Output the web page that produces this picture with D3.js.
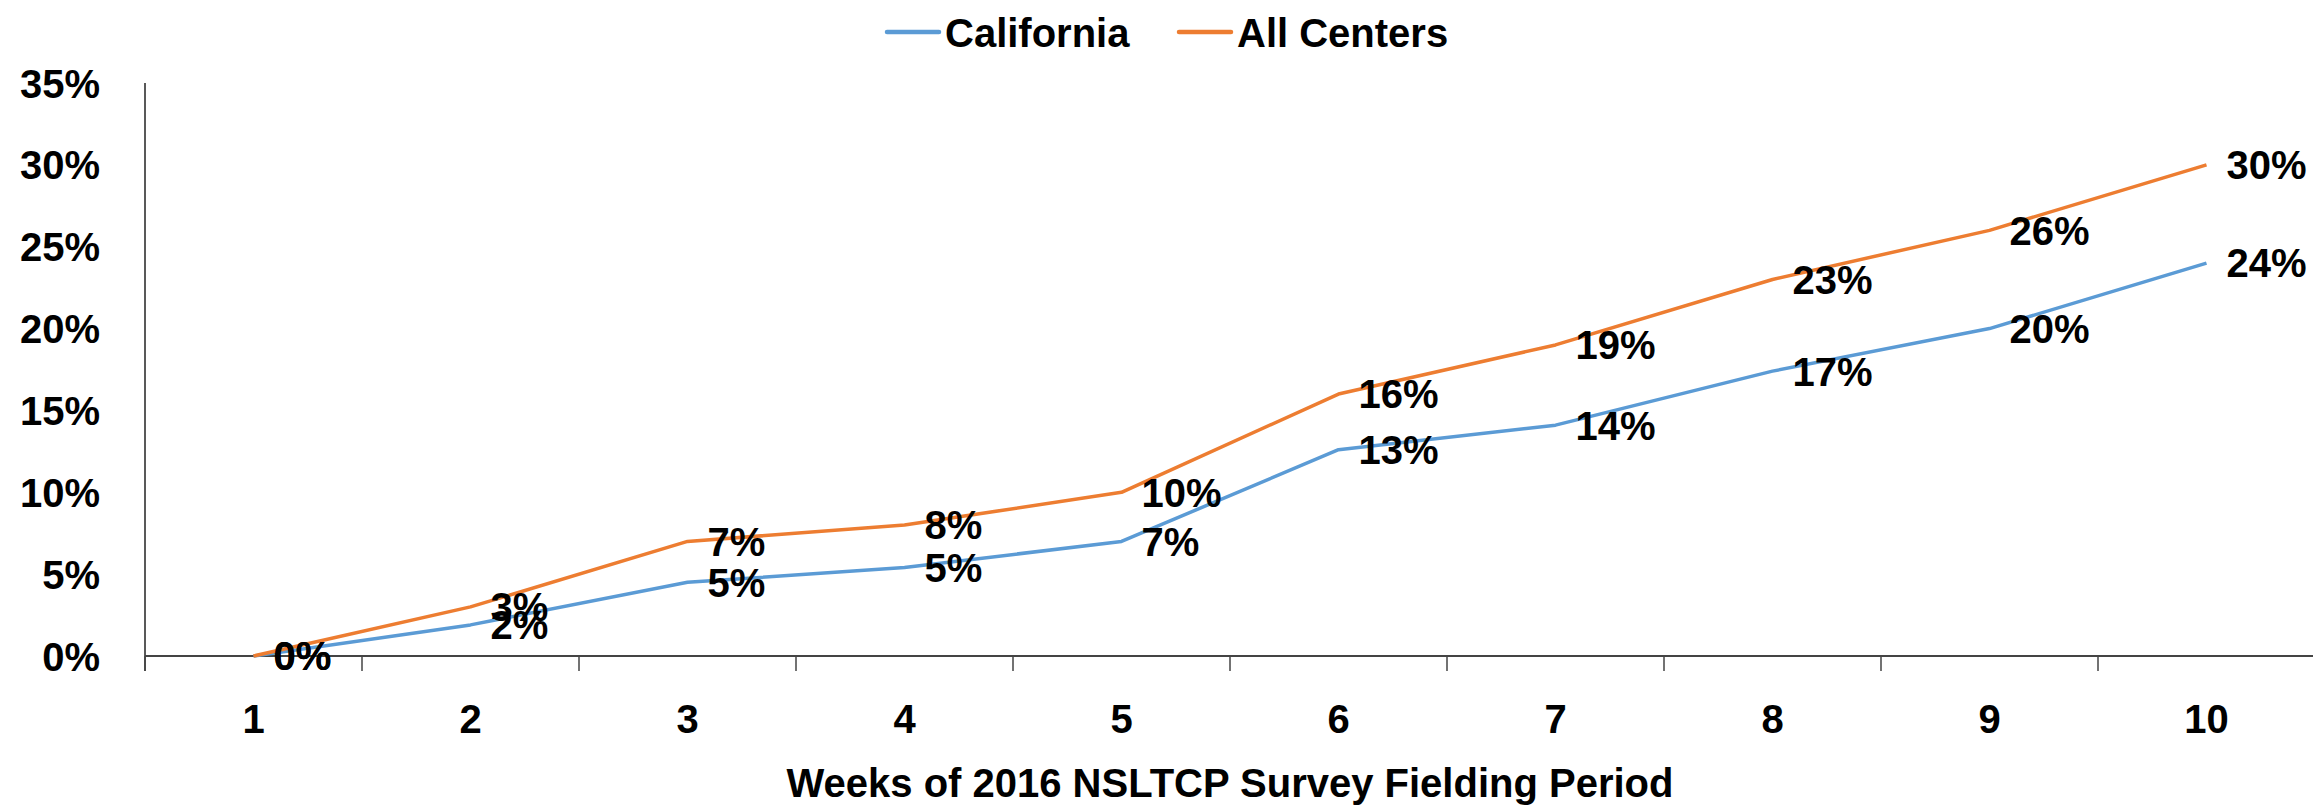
<!DOCTYPE html>
<html>
<head>
<meta charset="utf-8">
<script src="https://cdn.jsdelivr.net/npm/d3@7"></script>
<style>
  body { margin: 0; background: #fff; }
  text { font-family: "Liberation Sans", Arial, sans-serif; font-weight: bold; fill: #000; }
</style>
</head>
<body>
<div id="chart"></div>
<script>
var width = 2313,
    height = 807;

// data
var weeks = ["1", "2", "3", "4", "5", "6", "7", "8", "9", "10"];
var california = [0.000, 0.019, 0.045, 0.054, 0.070, 0.126, 0.141, 0.174, 0.200, 0.240];
var allCenters = [0.000, 0.030, 0.070, 0.080, 0.100, 0.160, 0.190, 0.230, 0.260, 0.300];
var seriesNames = ["California", "All Centers"];
var seriesColors = ["#5B9BD5", "#ED7D31"];
var yTicks = [0, 0.05, 0.10, 0.15, 0.20, 0.25, 0.30, 0.35];
var xTitle = "Weeks of 2016 NSLTCP Survey Fielding Period";

var margin = {left: 145, right: -2, top: 83, bottom: 151};

var svg = d3.select("#chart")
    .append("svg")
    .attr("width", width)
    .attr("height", height);

var x = d3.scaleBand()
    .domain(weeks)
    .range([margin.left, width - margin.right])
    .padding(0);

var y = d3.scaleLinear()
    .domain([0, 0.35])
    .range([height - margin.bottom, margin.top]);

var pct = d3.format(".0%");
var fs = 40;

// y axis labels
var yAxis = svg.append("g")
    .attr("transform", "translate(" + margin.left + ",0)")
    .call(d3.axisLeft(y).tickValues(yTicks).tickFormat(pct).tickSize(0).tickPadding(45));
yAxis.select(".domain").remove();
yAxis.selectAll("text")
    .attr("font-size", fs)
    .attr("font-family", null)
    .attr("dy", "0.35em");

// y axis line (runs down past the x axis like the tick marks)
svg.append("line")
    .attr("x1", margin.left).attr("x2", margin.left)
    .attr("y1", y(0.35)).attr("y2", y(0) + 15)
    .attr("stroke", "#222").attr("stroke-width", 1.5);

// x axis labels
var xAxis = svg.append("g")
    .attr("transform", "translate(0," + y(0) + ")")
    .call(d3.axisBottom(x).tickSize(0).tickPadding(49));
xAxis.select(".domain").remove();
xAxis.selectAll("text")
    .attr("font-size", fs)
    .attr("font-family", null);

// x axis line and tick marks between categories
svg.append("line")
    .attr("x1", margin.left).attr("x2", width)
    .attr("y1", y(0)).attr("y2", y(0))
    .attr("stroke", "#444").attr("stroke-width", 2);

var bounds = weeks.map(function(d){ return x(d); }).concat([x.range()[1]]);
svg.append("g").selectAll("line.tick")
    .data(bounds)
    .enter().append("line")
    .attr("x1", function(d){ return d; })
    .attr("x2", function(d){ return d; })
    .attr("y1", y(0))
    .attr("y2", y(0) + 15)
    .attr("stroke", "#444").attr("stroke-width", 1.5);

// x axis title
svg.append("text")
    .attr("x", (x.range()[0] + x.range()[1]) / 2)
    .attr("y", 797)
    .attr("text-anchor", "middle")
    .attr("font-size", fs)
    .text(xTitle);

// lines
var cx = function(i){ return x(weeks[i]) + x.bandwidth() / 2; };
var line = d3.line()
    .x(function(d, i){ return cx(i); })
    .y(function(d){ return y(d); });

var seriesData = [california, allCenters];

seriesData.forEach(function(vals, s){
    svg.append("path")
        .datum(vals)
        .attr("fill", "none")
        .attr("stroke", seriesColors[s])
        .attr("stroke-width", 3.5)
        .attr("stroke-linejoin", "round")
        .attr("d", line);
});

// data labels to the right of each point
seriesData.forEach(function(vals, s){
    svg.append("g").selectAll("text")
        .data(vals)
        .enter().append("text")
        .attr("x", function(d, i){ return cx(i) + 20; })
        .attr("y", function(d){ return y(d); })
        .attr("dy", "0.36em")
        .attr("font-size", fs)
        .text(function(d){ return pct(d); });
});

// legend
var legendX = [887, 1179];
var leg = svg.append("g").selectAll("g")
    .data(seriesNames)
    .enter().append("g")
    .attr("transform", function(d, i){ return "translate(" + legendX[i] + ",32)"; });
leg.append("line")
    .attr("x1", 0).attr("x2", 52)
    .attr("stroke", function(d, i){ return seriesColors[i]; })
    .attr("stroke-width", 4.5)
    .attr("stroke-linecap", "round");
leg.append("text")
    .attr("x", 58)
    .attr("y", 15)
    .attr("font-size", fs)
    .text(function(d){ return d; });
</script>
</body>
</html>
